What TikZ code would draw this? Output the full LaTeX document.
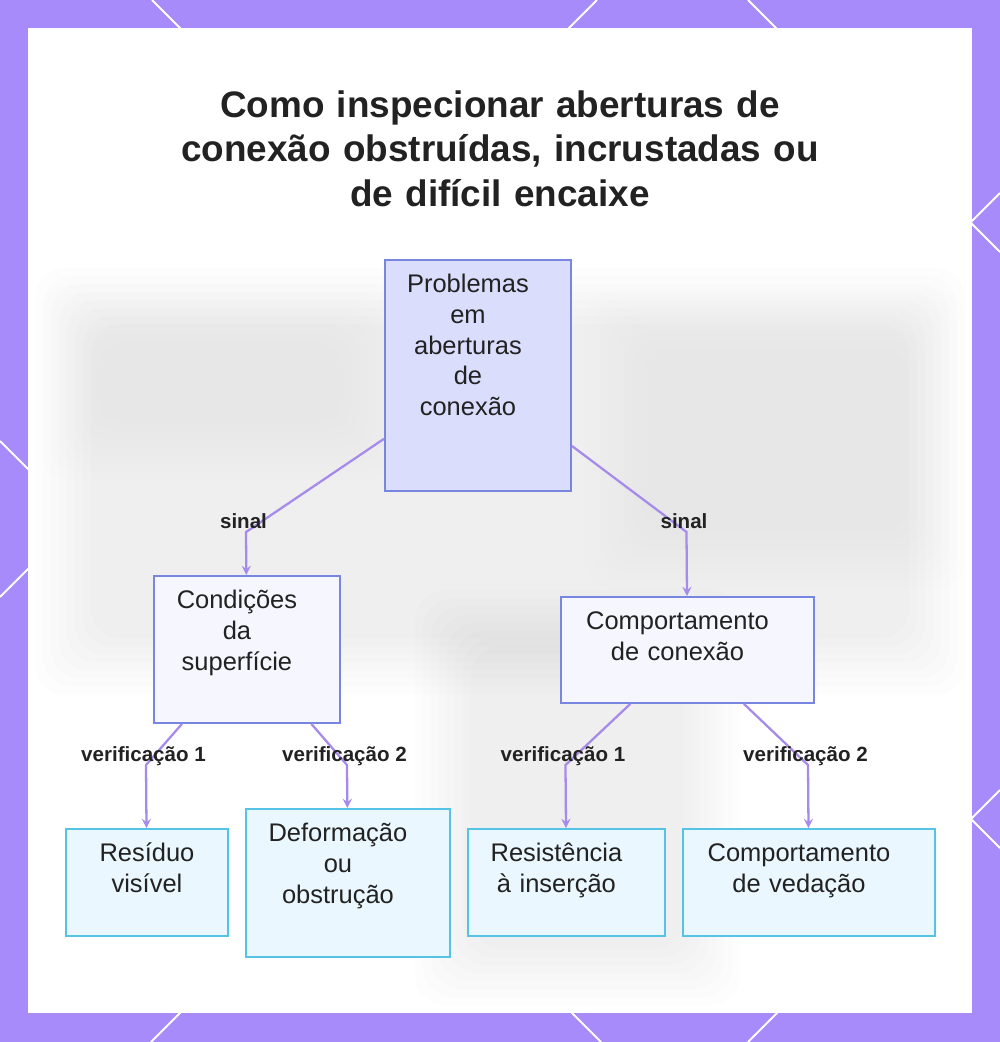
\documentclass[tikz,border=0pt]{standalone}
\usepackage{fontspec}
\setmainfont{Liberation Sans}
\usepackage{tikz}
\usepackage{xcolor}
\usetikzlibrary{arrows,positioning}
\definecolor{frame}{RGB}{167,139,250}
\definecolor{ink}{RGB}{34,34,34}
\definecolor{boxline}{RGB}{121,134,224}
\definecolor{rootfill}{RGB}{218,221,252}
\definecolor{midfill}{RGB}{245,246,254}
\definecolor{leafline}{RGB}{84,195,230}
\definecolor{leaffill}{RGB}{234,247,254}
\definecolor{linkc}{RGB}{167,139,234}
\newcommand{\boxfont}{\fontsize{14.5}{17.4}\selectfont}
\newcommand{\headfont}{\fontsize{21}{25.6}\selectfont\bfseries}
\newcommand{\tagfont}{\fontsize{11.7}{14}\selectfont\bfseries}
\tikzstyle{link} = [
    line width=1.3pt,
    -stealth,
    draw=linkc
]
\tikzstyle{topic} = [
    rectangle,
    anchor=north west,
    inner sep=0pt,
    text height=0.66cm,
    line width=1.1pt,
    draw=boxline,
    fill=rootfill,
    text=ink,
    font=\boxfont,
    execute at begin node={\parindent=0pt\parfillskip=0pt\leftskip=0pt plus 1fil\rightskip=0.4cm plus 1fil}
]
\tikzstyle{subtopic} = [topic, fill=midfill]
\tikzstyle{check} = [topic, draw=leafline, fill=leaffill]
\tikzstyle{tag} = [
    anchor=base,
    inner sep=0pt,
    xshift=-0.05cm,
    yshift=0.08cm,
    text=ink,
    font=\tagfont
]

\begin{document}
\begin{tikzpicture}[x=0.02cm, y=-0.02cm]
    \useasboundingbox (0,0) rectangle (1000,1042);
    % frame with diamond lines
    \fill[frame] (0,0) rectangle (1000,1042);
    \draw[white, line width=1.1pt] (152,0) -- (1000,848) (748,0) -- (1000,252) (0,441) -- (601,1042);
    \draw[white, line width=1.1pt] (597,0) -- (0,597) (1000,193) -- (151,1042) (1000,790) -- (748,1042);
    \fill[white] (28,28) rectangle (972,1013);
    % blurred backdrop
    \foreach \xa/\ya/\xb/\yb/\op in {35/268/965/695/0.0065, 40/285/400/480/0.004, 585/290/965/590/0.004, 415/590/740/1005/0.006}{
        \foreach \k in {0,...,7}{
            \fill[black, opacity=\op, rounded corners=0.6cm] (\xa+\k*8,\ya+\k*8) rectangle (\xb-\k*8,\yb-\k*8);
        }
    }

    \node[text=ink, font=\headfont, align=center, text width=14cm, inner sep=0pt, anchor=base] (title) at (500,117)
        {Como inspecionar aberturas de\\conexão obstruídas, incrustadas ou\\de difícil encaixe};

    \node[topic, text width=3.72cm, text depth=3.96cm] (root) at (384,259) {Problemas\par em\par aberturas\par de\par conexão};
    \node[subtopic, text width=3.72cm, text depth=2.28cm] (cond) at (153,575) {Condições\par da\par superfície};
    \node[subtopic, text width=5.06cm, text depth=1.46cm] (comp) at (560,596) {Comportamento\par de conexão};
    \node[check, text width=3.24cm, text depth=1.48cm, execute at begin node={\rightskip=0pt plus 1fil}] (resid) at (65,828) {Resíduo\par visível};
    \node[check, text width=4.08cm, text depth=2.30cm] (deform) at (245,808) {Deformação\par ou\par obstrução};
    \node[check, text width=3.94cm, text depth=1.48cm] (insert) at (467,828) {Resistência\par à inserção};
    \node[check, text width=5.04cm, text depth=1.48cm] (seal) at (682,828) {Comportamento\par de vedação};

    \coordinate (sinalL) at (246,532);
    \coordinate (sinalR) at (686.5,532);
    \coordinate (verL1) at (146,765);
    \coordinate (verL2) at (347,765);
    \coordinate (verR1) at (565.5,765);
    \coordinate (verR2) at (808,765);

    \draw[link] (root) -- (sinalL) -- (cond);
    \draw[link] (root) -- (sinalR) -- (comp);
    \draw[link] (cond) -- (verL1) -- (resid);
    \draw[link] (cond) -- (verL2) -- (deform);
    \draw[link] (comp) -- (verR1) -- (insert);
    \draw[link] (comp) -- (verR2) -- (seal);

    \node[tag] (tsinalL) at (sinalL) {sinal};
    \node[tag] (tsinalR) at (sinalR) {sinal};
    \node[tag] (tverL1) at (verL1) {verificação 1};
    \node[tag] (tverL2) at (verL2) {verificação 2};
    \node[tag] (tverR1) at (verR1) {verificação 1};
    \node[tag] (tverR2) at (verR2) {verificação 2};
\end{tikzpicture}
\end{document}
